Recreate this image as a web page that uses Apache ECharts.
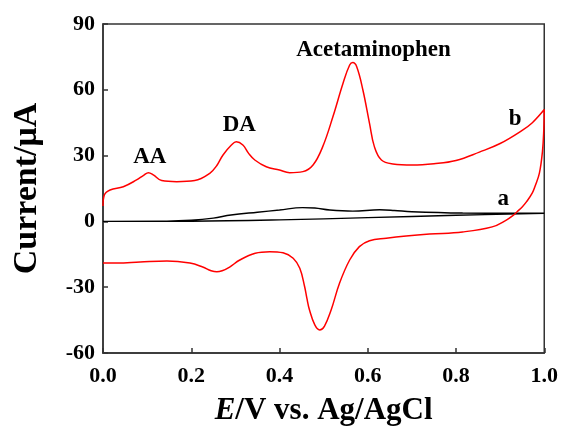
<!DOCTYPE html>
<html>
<head>
<meta charset="utf-8">
<script src="https://cdn.jsdelivr.net/npm/echarts@6/dist/echarts.min.js"></script>
<style>
  html, body { margin: 0; padding: 0; background: #fff; }
  #chart { width: 561px; height: 431px; }
</style>
</head>
<body>
<div id="chart"></div>
<script>
// curve b (red): anodic sweep then cathodic sweep
const bForwardE = [0, 0.003, 0.016, 0.046, 0.076, 0.092, 0.103, 0.114, 0.133, 0.167, 0.208, 0.242, 0.258, 0.272, 0.291, 0.302, 0.317, 0.33, 0.344, 0.37, 0.4, 0.423, 0.453, 0.476, 0.498, 0.521, 0.544, 0.559, 0.566, 0.575, 0.589, 0.604, 0.615, 0.631, 0.657, 0.701, 0.75, 0.8, 0.853, 0.9, 0.95, 0.973, 1.0];
const bForwardI = [7, 12, 14.3, 15.8, 18.9, 21, 22.2, 21.2, 18.6, 18.1, 18.6, 21.9, 25.5, 30.3, 34.8, 36.3, 34.8, 31, 28, 24.9, 23.4, 22.2, 22.7, 25.7, 34.1, 47.7, 63, 71.3, 72.4, 70.5, 59.9, 44.7, 34.1, 28, 26.2, 25.7, 26.3, 27.8, 31.6, 35.5, 41.5, 45, 51];
const bReverseE = [1.0, 0.999, 0.996, 0.989, 0.98, 0.973, 0.96, 0.95, 0.939, 0.928, 0.914, 0.882, 0.815, 0.74, 0.687, 0.642, 0.604, 0.581, 0.559, 0.536, 0.517, 0.502, 0.491, 0.48, 0.468, 0.462, 0.457, 0.446, 0.431, 0.408, 0.378, 0.345, 0.31, 0.287, 0.27, 0.258, 0.245, 0.226, 0.197, 0.145, 0.084, 0.032, 0];
const bReverseI = [51, 42, 32, 22, 16.5, 13, 9, 6.6, 4.5, 2.5, 0.6, -2.5, -4.8, -5.8, -6.7, -7.7, -8.8, -11.5, -17.6, -28.2, -40.4, -47.7, -49.5, -47.2, -40.4, -35, -29.8, -21.4, -16.8, -14.3, -13.8, -14.5, -17.6, -20.8, -22.5, -23, -22.5, -20.8, -19, -18, -18.5, -19, -19];

// curve a (black)
const aForwardE = [0, 0.1, 0.2, 0.25, 0.29, 0.35, 0.4, 0.452, 0.48, 0.514, 0.566, 0.627, 0.66, 0.7, 0.815, 0.928, 1.0];
const aForwardI = [0, 0, 0.6, 1.5, 2.9, 4.2, 5.2, 6.3, 6.1, 5.2, 4.7, 5.3, 5.0, 4.4, 3.8, 3.7, 3.7];
const aReverseE = [1.0, 0.8, 0.6, 0.4, 0.2, 0];
const aReverseI = [3.7, 2.8, 1.7, 0.7, 0.1, 0];

const xTicks = [0, 0.2, 0.4, 0.6, 0.8, 1.0];
const yTicks = [-60, -30, 0, 30, 60, 90];

const annotations = [
  ["AA", 0.106, 29.2],
  ["DA", 0.309, 43.8],
  ["Acetaminophen", 0.613, 78.2],
  ["b", 0.934, 46.6],
  ["a", 0.907, 10.2],
];

const pairs = (xs, ys) => xs.map((x, i) => [x, ys[i]]);

const serif = "'Liberation Serif', 'Times New Roman', serif";

const myChart = echarts.init(document.getElementById("chart"));
myChart.setOption({
  animation: false,
  grid: {
    left: 103,
    right: 16,
    top: 24,
    bottom: 78,
    show: true,
    borderColor: "#333",
    borderWidth: 1.5,
  },
  xAxis: {
    type: "value",
    min: xTicks[0],
    max: xTicks[xTicks.length - 1],
    interval: 0.2,
    name: "{i|E}/V vs. Ag/AgCl",
    nameLocation: "middle",
    nameGap: 42,
    nameTextStyle: {
      fontFamily: serif,
      fontWeight: "bold",
      fontSize: 31,
      color: "#000",
      rich: {
        i: { fontFamily: serif, fontWeight: "bold", fontStyle: "italic", fontSize: 31, color: "#000" },
      },
    },
    axisLine: { show: true, onZero: false, lineStyle: { color: "#333", width: 1.5 } },
    axisTick: { show: true, inside: true, length: 5, lineStyle: { color: "#333", width: 1.5 } },
    splitLine: { show: false },
    axisLabel: {
      margin: 12,
      fontFamily: serif,
      fontWeight: "bold",
      fontSize: 22,
      color: "#000",
      formatter: (v) => v.toFixed(1),
    },
  },
  yAxis: {
    type: "value",
    min: yTicks[0],
    max: yTicks[yTicks.length - 1],
    interval: 30,
    name: "Current/μA",
    nameLocation: "middle",
    nameGap: 59,
    nameTextStyle: {
      fontFamily: serif,
      fontWeight: "bold",
      fontSize: 34,
      color: "#000",
    },
    axisLine: { show: true, onZero: false, lineStyle: { color: "#333", width: 1.5 } },
    axisTick: { show: true, inside: true, length: 5, lineStyle: { color: "#333", width: 1.5 } },
    splitLine: { show: false },
    axisLabel: {
      margin: 8,
      fontFamily: serif,
      fontWeight: "bold",
      fontSize: 22,
      color: "#000",
    },
  },
  series: [
    {
      name: "a",
      type: "line",
      data: pairs(aForwardE.concat(aReverseE), aForwardI.concat(aReverseI)),
      showSymbol: false,
      smooth: 0.4,
      lineStyle: { color: "#000", width: 1.4 },
      z: 2,
    },
    {
      name: "b",
      type: "line",
      data: pairs(bForwardE.concat(bReverseE), bForwardI.concat(bReverseI)),
      showSymbol: false,
      smooth: 0.4,
      lineStyle: { color: "#ff0000", width: 1.5 },
      z: 3,
    },
    {
      name: "labels",
      type: "scatter",
      symbolSize: 0,
      itemStyle: { opacity: 1 },
      data: annotations.map((a) => ({ value: [a[1], a[2]], name: a[0] })),
      label: {
        show: true,
        position: "inside",
        formatter: (p) => p.name,
        fontFamily: serif,
        fontWeight: "bold",
        fontSize: 23,
        color: "#000",
      },
      silent: true,
      z: 4,
    },
  ],
});
window.addEventListener("resize", () => {
  myChart && myChart.resize();
});
</script>
</body>
</html>
